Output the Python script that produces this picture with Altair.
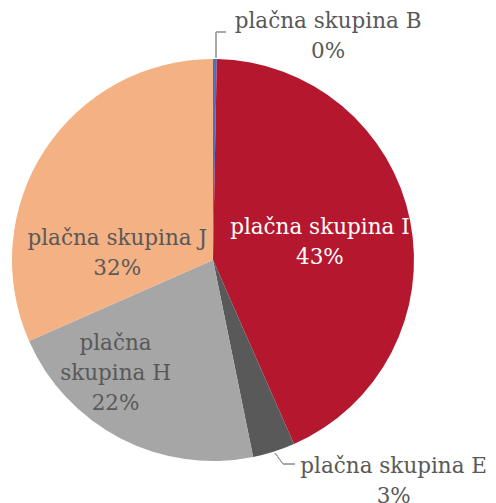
import altair as alt
import pandas as pd

categories = ["plačna skupina B", "plačna skupina I", "plačna skupina E", "plačna skupina H", "plačna skupina J"]
values = [0.3, 43.1, 3.4, 21.6, 31.6]
pct_labels = ["0%", "43%", "3%", "22%", "32%"]
label_lines = ["plačna skupina B\n0%", "plačna skupina I\n43%", "plačna skupina E\n3%",
               "plačna\nskupina H\n22%", "plačna skupina J\n32%"]
colors = ["#4472C4", "#B5172F", "#595959", "#A6A6A6", "#F4B183"]

df = pd.DataFrame({
    "cat": categories,
    "val": values,
    "idx": list(range(len(categories))),
    "label": label_lines,
})

CX, CY, R = 205, 252, 201
FONT = "DejaVu Serif"
TOTAL = sum(values)

arcs = alt.Chart(df).mark_arc(outerRadius=R, stroke=None).encode(
    theta=alt.Theta("val:Q", stack=True),
    order=alt.Order("idx:Q"),
    color=alt.Color("cat:N", scale=alt.Scale(domain=categories, range=colors), legend=None),
    x=alt.value(CX), y=alt.value(CY),
)

# per-label placement: (category, radius, dx, dy, color)
placements = [
    ("plačna skupina B", 222, 113, -16, "#595959"),
    ("plačna skupina I", 108, 1, -11, "#FFFFFF"),
    ("plačna skupina E", 230, 111, -12, "#595959"),
    ("plačna skupina H", 125, -40, -27, "#595959"),
    ("plačna skupina J", 100, -12, 34, "#595959"),
]

text_base = alt.Chart(df).transform_window(
    cum="sum(val)", sort=[alt.SortField("idx")]
).transform_calculate(
    mid="datum.cum - datum.val / 2"
)

texts = []
for cat, rad, dx, dy, col in placements:
    t = text_base.transform_filter(alt.datum.cat == cat).mark_text(
        radius=rad, dx=dx, dy=dy, font=FONT, fontSize=21.5, lineBreak="\n",
        lineHeight=30, color=col, align="center", baseline="middle").encode(
        theta=alt.Theta("mid:Q", scale=alt.Scale(domain=[0, TOTAL])),
        text="label:N", x=alt.value(CX), y=alt.value(CY),
    )
    texts.append(t)

# leader lines
lead_color = "#A6A6A6"
leaders = [
    alt.Chart(df).mark_rule(color=lead_color, strokeWidth=1).encode(
        x=alt.value(208), x2=alt.value(208), y=alt.value(50), y2=alt.value(24)),
    alt.Chart(df).mark_rule(color=lead_color, strokeWidth=1).encode(
        x=alt.value(208), x2=alt.value(218), y=alt.value(24), y2=alt.value(24)),
    alt.Chart(df).mark_rule(color=lead_color, strokeWidth=1).encode(
        x=alt.value(267), x2=alt.value(275), y=alt.value(445), y2=alt.value(456)),
    alt.Chart(df).mark_rule(color=lead_color, strokeWidth=1).encode(
        x=alt.value(275), x2=alt.value(287), y=alt.value(456), y2=alt.value(456)),
]

chart = alt.layer(arcs, *leaders, *texts).properties(
    width=480, height=495, padding=0, autosize=alt.AutoSizeParams(type="none")
).configure_view(stroke=None)

chart.save("out.html", embed_options={"renderer": "svg", "actions": False})
